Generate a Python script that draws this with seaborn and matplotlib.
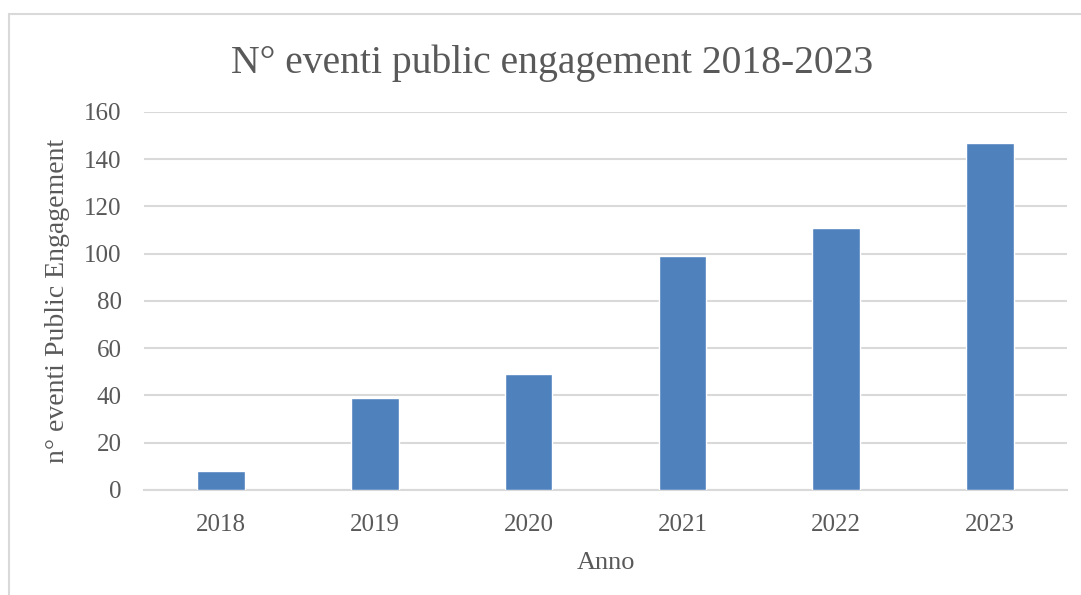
import matplotlib.pyplot as plt
import pandas as pd
import seaborn as sns
from matplotlib.patches import Rectangle

years = ["2018", "2019", "2020", "2021", "2022", "2023"]
events = [8, 39, 49, 99, 111, 147]
y_ticks = [0, 20, 40, 60, 80, 100, 120, 140, 160]

title = "N° eventi public engagement 2018-2023"
x_label = "Anno"
y_label = "n° eventi Public Engagement"

BAR_COLOR = "#4F81BD"
TEXT_COLOR = "#595959"
GRID_COLOR = "#D9D9D9"

df = pd.DataFrame({"anno": years, "eventi": events})

sns.set_theme(style="white")
plt.rcParams["font.family"] = ["Liberation Serif", "DejaVu Serif"]

fig = plt.figure(figsize=(10.81, 5.95), dpi=100)
ax = fig.add_axes([0.1332, 0.1765, 0.8539, 0.6353])

sns.barplot(data=df, x="anno", y="eventi", color=BAR_COLOR, width=0.31,
            saturation=1, ax=ax, zorder=3)

ax.set_ylim(0, 160)
ax.set_yticks(y_ticks)
ax.set_xlim(-0.5, len(years) - 0.5)
ax.yaxis.grid(True, color=GRID_COLOR, linewidth=1.5, zorder=0)
ax.set_axisbelow(True)
for side in ["top", "right", "left"]:
    ax.spines[side].set_visible(False)
ax.spines["bottom"].set_color(GRID_COLOR)
ax.spines["bottom"].set_linewidth(1.5)
ax.tick_params(axis="both", length=0, labelsize=18, labelcolor=TEXT_COLOR)
ax.tick_params(axis="x", pad=17)
ax.tick_params(axis="y", pad=16)

ax.set_xlabel(x_label, fontsize=19, color=TEXT_COLOR, labelpad=12)
ax.set_ylabel(y_label, fontsize=20, color=TEXT_COLOR, labelpad=10)
fig.text(0.511, 0.893, title, ha="center", va="center", fontsize=28.5, color=TEXT_COLOR)

# chart-area border (only top/left visible in the crop)
fig.patches.append(Rectangle((9 / 1081, -0.1), 1.2, 1 - 14 / 595 + 0.1,
                             transform=fig.transFigure, fill=False,
                             edgecolor=GRID_COLOR, linewidth=1.5))

fig.savefig("out.png", dpi=100)
